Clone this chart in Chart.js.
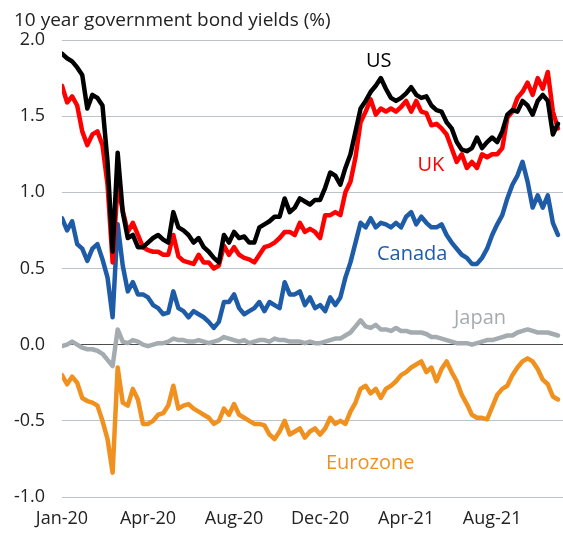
<!DOCTYPE html>
<html>
<head>
<meta charset="utf-8">
<title>10 year government bond yields</title>
<script src="https://cdn.jsdelivr.net/npm/chart.js@4.4.1/dist/chart.umd.min.js"></script>
<style>
  html, body { margin: 0; padding: 0; background: #fff; }
  #wrap { width: 563px; height: 535px; }
</style>
</head>
<body>
<div id="wrap"><canvas id="yields-chart" width="563" height="535"></canvas></div>
<script>
/* 10 year government bond yields, weekly readings Jan-20 .. Dec-21 */

const titleText = '10 year government bond yields (%)';

// x axis: week number since 1 Jan 2020, labelled every 17 weeks
const tickWeeks  = [0, 17, 34, 51, 68, 85];
const tickLabels = ['Jan-20', 'Apr-20', 'Aug-20', 'Dec-20', 'Apr-21', 'Aug-21'];

const usYield = [
  1.91, 1.88, 1.86, 1.82, 1.77, 1.55, 1.64, 1.62, 1.57, 1.20,
  0.61, 1.26, 0.87, 0.70, 0.72, 0.64, 0.64, 0.67, 0.70, 0.72,
  0.69, 0.67, 0.87, 0.77, 0.75, 0.72, 0.67, 0.70, 0.64, 0.61,
  0.57, 0.54, 0.72, 0.67, 0.74, 0.70, 0.71, 0.67, 0.67, 0.77,
  0.79, 0.81, 0.84, 0.84, 0.96, 0.87, 0.90, 0.96, 0.94, 0.92,
  0.95, 0.95, 1.03, 1.13, 1.11, 1.05, 1.16, 1.25, 1.40, 1.55,
  1.60, 1.66, 1.70, 1.75, 1.68, 1.62, 1.60, 1.62, 1.65, 1.69,
  1.64, 1.62, 1.63, 1.57, 1.54, 1.53, 1.46, 1.42, 1.33, 1.28,
  1.27, 1.29, 1.36, 1.29, 1.33, 1.36, 1.33, 1.40, 1.51, 1.54,
  1.53, 1.60, 1.57, 1.51, 1.60, 1.64, 1.60, 1.38, 1.45
];

const ukYield = [
  1.70, 1.59, 1.63, 1.57, 1.40, 1.31, 1.38, 1.40, 1.31, 1.05,
  0.54, 1.05, 0.88, 0.74, 0.80, 0.72, 0.64, 0.62, 0.61, 0.61,
  0.59, 0.59, 0.72, 0.58, 0.55, 0.54, 0.53, 0.59, 0.54, 0.54,
  0.50, 0.52, 0.65, 0.59, 0.64, 0.59, 0.57, 0.56, 0.54, 0.59,
  0.64, 0.65, 0.67, 0.70, 0.74, 0.74, 0.72, 0.80, 0.74, 0.76,
  0.74, 0.70, 0.85, 0.85, 0.87, 0.85, 1.00, 1.07, 1.23, 1.46,
  1.53, 1.61, 1.51, 1.55, 1.53, 1.55, 1.53, 1.56, 1.60, 1.53,
  1.60, 1.53, 1.52, 1.44, 1.45, 1.42, 1.38, 1.29, 1.20, 1.25,
  1.16, 1.20, 1.16, 1.25, 1.23, 1.25, 1.25, 1.29, 1.49, 1.53,
  1.62, 1.66, 1.72, 1.64, 1.75, 1.68, 1.79, 1.53, 1.42
];

const canadaYield = [
  0.83, 0.75, 0.81, 0.66, 0.63, 0.55, 0.63, 0.66, 0.56, 0.44,
  0.18, 0.79, 0.52, 0.35, 0.41, 0.33, 0.33, 0.31, 0.26, 0.24,
  0.20, 0.21, 0.35, 0.24, 0.22, 0.18, 0.22, 0.20, 0.18, 0.15,
  0.11, 0.15, 0.28, 0.28, 0.33, 0.24, 0.20, 0.22, 0.24, 0.28,
  0.22, 0.28, 0.26, 0.24, 0.41, 0.33, 0.33, 0.35, 0.26, 0.31,
  0.24, 0.26, 0.22, 0.31, 0.26, 0.31, 0.44, 0.54, 0.67, 0.80,
  0.77, 0.83, 0.77, 0.80, 0.79, 0.77, 0.80, 0.77, 0.84, 0.87,
  0.79, 0.84, 0.80, 0.77, 0.77, 0.79, 0.72, 0.67, 0.63, 0.59,
  0.57, 0.53, 0.53, 0.57, 0.63, 0.72, 0.79, 0.85, 0.96, 1.05,
  1.11, 1.20, 1.07, 0.90, 0.98, 0.90, 0.98, 0.80, 0.72
];

const japanYield = [
  -0.01, 0.00, 0.02, 0.00, -0.02, -0.03, -0.03, -0.04, -0.06, -0.10,
  -0.14, 0.10, 0.02, 0.01, 0.03, 0.02, 0.00, -0.01, 0.00, 0.01,
  0.01, 0.02, 0.04, 0.03, 0.03, 0.02, 0.02, 0.03, 0.02, 0.01,
  0.02, 0.03, 0.05, 0.04, 0.03, 0.02, 0.03, 0.01, 0.02, 0.03,
  0.03, 0.02, 0.04, 0.03, 0.03, 0.02, 0.02, 0.02, 0.01, 0.02,
  0.01, 0.01, 0.02, 0.03, 0.04, 0.04, 0.06, 0.08, 0.12, 0.16,
  0.12, 0.11, 0.13, 0.10, 0.10, 0.09, 0.11, 0.09, 0.09, 0.08,
  0.08, 0.08, 0.07, 0.05, 0.05, 0.04, 0.03, 0.02, 0.01, 0.01,
  0.01, 0.00, 0.01, 0.02, 0.03, 0.03, 0.04, 0.05, 0.06, 0.06,
  0.08, 0.09, 0.10, 0.09, 0.08, 0.08, 0.08, 0.07, 0.06
];

const eurozoneYield = [
  -0.20, -0.26, -0.21, -0.25, -0.35, -0.37, -0.38, -0.40, -0.50, -0.62,
  -0.84, -0.15, -0.38, -0.40, -0.29, -0.36, -0.52, -0.52, -0.50, -0.46,
  -0.45, -0.40, -0.27, -0.42, -0.40, -0.39, -0.42, -0.44, -0.46, -0.48,
  -0.52, -0.50, -0.42, -0.46, -0.39, -0.46, -0.48, -0.50, -0.52, -0.52,
  -0.53, -0.59, -0.62, -0.57, -0.50, -0.59, -0.57, -0.55, -0.61, -0.57,
  -0.55, -0.59, -0.55, -0.48, -0.52, -0.50, -0.52, -0.44, -0.38, -0.29,
  -0.27, -0.32, -0.29, -0.35, -0.29, -0.27, -0.24, -0.20, -0.18, -0.15,
  -0.13, -0.11, -0.18, -0.15, -0.24, -0.16, -0.11, -0.18, -0.24, -0.33,
  -0.39, -0.46, -0.48, -0.48, -0.49, -0.41, -0.33, -0.29, -0.27, -0.20,
  -0.15, -0.11, -0.09, -0.11, -0.16, -0.23, -0.26, -0.34, -0.36
];

// direct labels next to each line: [text, week, yield]
const seriesLabels = [
  ['US',       62.6,  1.86],
  ['UK',       72.9,  1.18],
  ['Canada',   69.2,  0.59],
  ['Japan',    82.6,  0.17],
  ['Eurozone', 60.9, -0.78]
];

const colours = {
  US: '#000000',
  UK: '#ff0000',
  Canada: '#1f5ca8',
  Japan: '#a4acb0',
  Eurozone: '#f0901e'
};

const FONT = '"Open Sans", "Noto Sans", sans-serif';

function toPoints(values) {
    return values.map((v, i) => ({ x: i, y: v }));
}

function lineSet(name, values) {
    return {
        label: name,
        data: toPoints(values),
        borderColor: colours[name],
        backgroundColor: colours[name],
        borderWidth: 4.5,
        pointRadius: 0,
        tension: 0,
        borderJoinStyle: 'round',
        borderCapStyle: 'round'
    };
}

// title in the top-left corner and the direct labels on the lines
const annotatePlugin = {
    id: 'annotate',
    afterDraw(chart) {
        const ctx = chart.ctx;
        const xs = chart.scales.x;
        const ys = chart.scales.y;
        ctx.save();
        ctx.font = '19px ' + FONT;
        ctx.fillStyle = '#222222';
        ctx.textAlign = 'left';
        ctx.textBaseline = 'alphabetic';
        ctx.fillText(titleText, 14, 26);

        ctx.font = '20px ' + FONT;
        ctx.textAlign = 'center';
        ctx.textBaseline = 'middle';
        seriesLabels.forEach(([text, wk, val]) => {
            ctx.fillStyle = colours[text];
            ctx.fillText(text, xs.getPixelForValue(wk), ys.getPixelForValue(val));
        });
        ctx.restore();
    }
};

new Chart(document.getElementById('yields-chart'), {
    type: 'line',
    data: {
        datasets: [
            lineSet('US', usYield),
            lineSet('UK', ukYield),
            lineSet('Canada', canadaYield),
            lineSet('Japan', japanYield),
            lineSet('Eurozone', eurozoneYield)
        ]
    },
    options: {
        responsive: false,
        animation: false,
        devicePixelRatio: 1,
        layout: { padding: { top: 40, right: 0, left: 0, bottom: 0 } },
        plugins: {
            legend: { display: false },
            tooltip: { enabled: false }
        },
        scales: {
            x: {
                type: 'linear',
                min: 0,
                max: 99,
                afterBuildTicks: scale => {
                    scale.ticks = tickWeeks.map(v => ({ value: v }));
                },
                afterFit: scale => { scale.height = 38; },
                grid: { display: false, drawTicks: false },
                border: { display: false },
                ticks: {
                    autoSkip: false,
                    maxRotation: 0,
                    padding: 11,
                    color: '#222222',
                    font: { family: FONT, size: 18 },
                    callback: v => tickLabels[tickWeeks.indexOf(v)]
                }
            },
            y: {
                min: -1,
                max: 2,
                afterFit: scale => { scale.width = 62; },
                grid: {
                    drawTicks: false,
                    lineWidth: 1,
                    color: c => (c.tick && c.tick.value === 0) ? '#4d4d4d' : '#bcc3c8'
                },
                border: { display: false },
                ticks: {
                    stepSize: 0.5,
                    padding: 17,
                    color: '#222222',
                    font: { family: FONT, size: 18 },
                    callback: v => v.toFixed(1)
                }
            }
        }
    },
    plugins: [annotatePlugin]
});
</script>
</body>
</html>
